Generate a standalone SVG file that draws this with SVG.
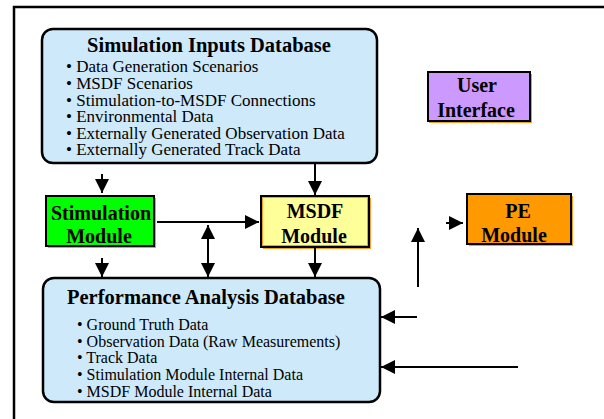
<svg xmlns="http://www.w3.org/2000/svg" width="604" height="419" viewBox="0 0 604 419">
<defs>
<marker id="ah" viewBox="0 0 10 10" refX="10" refY="5" markerWidth="16" markerHeight="14" markerUnits="userSpaceOnUse" orient="auto-start-reverse">
<path d="M0,0 L10,5 L0,10 Z" fill="#000"/>
</marker>
<style>
.db{fill:#cde9fa;stroke:#000;stroke-width:2.5}
.mod{stroke:#000;stroke-width:2}
.sh{fill:none;stroke:#f59b2a;stroke-width:2}
.t{font-family:"Liberation Serif","Times New Roman",serif;fill:#000}
.h{font-weight:bold;font-size:20.5px}
.b{font-size:17px}
.pb{font-size:16px}
.m{font-weight:bold;font-size:20px}
.c line,.c path{stroke:#000;stroke-width:2;fill:none}
</style>
</defs>
<rect width="604" height="419" fill="#fff"/>
<path d="M14 419 L14 7 L604 7" fill="none" stroke="#000" stroke-width="2.5"/>

<g id="sim-inputs-db">
<rect class="db" x="42" y="29" width="335" height="134" rx="11"/>
<text class="t h" x="209" y="52" text-anchor="middle">Simulation Inputs Database</text>
<text class="t b" x="66" y="72">• Data Generation Scenarios</text>
<text class="t b" x="66" y="89">• MSDF Scenarios</text>
<text class="t b" x="66" y="106">• Stimulation-to-MSDF Connections</text>
<text class="t b" x="66" y="122">• Environmental Data</text>
<text class="t b" x="66" y="139">• Externally Generated Observation Data</text>
<text class="t b" x="66" y="155">• Externally Generated Track Data</text>
</g>

<g id="user-interface">
<path class="sh" d="M531 74 L531 122 L429 122"/>
<rect x="428" y="72" width="102" height="49" fill="#cc99ff" stroke="#000" stroke-width="2"/>
<text class="t m" x="477" y="92" text-anchor="middle">User</text>
<text class="t m" x="476" y="117" text-anchor="middle">Interface</text>
</g>

<g id="stimulation-module">
<path class="sh" d="M155 198 L155 247 L48 247"/>
<rect class="mod" x="46" y="196" width="108" height="50" fill="#00ff00"/>
<text class="t m" x="101" y="220" text-anchor="middle">Stimulation</text>
<text class="t m" x="99" y="243" text-anchor="middle">Module</text>
</g>

<g id="msdf-module">
<path class="sh" d="M370 198 L370 248 L263 248"/>
<rect x="261" y="196" width="108" height="51" fill="#ffff99" stroke="#000" stroke-width="2"/>
<rect x="262.5" y="197.5" width="105" height="48" fill="none" stroke="#f59b2a" stroke-width="1"/>
<text class="t m" x="315" y="218" text-anchor="middle">MSDF</text>
<text class="t m" x="314" y="243" text-anchor="middle">Module</text>
</g>

<g id="pe-module">
<path class="sh" d="M572 196 L572 245 L469 245"/>
<rect x="467" y="194" width="104" height="50" fill="#ff9900" stroke="#000" stroke-width="2"/>
<text class="t m" x="518" y="218" text-anchor="middle">PE</text>
<text class="t m" x="514" y="242" text-anchor="middle">Module</text>
</g>

<g id="perf-analysis-db">
<rect class="db" x="43" y="278" width="337" height="124" rx="11"/>
<text class="t h" x="67" y="304">Performance Analysis Database</text>
<text class="t pb" x="77" y="330">• Ground Truth Data</text>
<text class="t pb" x="77" y="347">• Observation Data (Raw Measurements)</text>
<text class="t pb" x="77" y="363">• Track Data</text>
<text class="t pb" x="77" y="380">• Stimulation Module Internal Data</text>
<text class="t pb" x="77" y="397">• MSDF Module Internal Data</text>
</g>

<g id="connectors" class="c">
<line x1="102" y1="174" x2="102" y2="193" marker-end="url(#ah)"/>
<line x1="315" y1="163" x2="315" y2="195" marker-end="url(#ah)"/>
<line x1="102" y1="258" x2="102" y2="277" marker-end="url(#ah)"/>
<line x1="315" y1="247" x2="315" y2="277" marker-end="url(#ah)"/>
<line x1="157" y1="222" x2="259" y2="222" marker-end="url(#ah)"/>
<line x1="208" y1="225" x2="208" y2="277" marker-start="url(#ah)" marker-end="url(#ah)"/>
<line x1="418" y1="287" x2="418" y2="228" marker-end="url(#ah)"/>
<line x1="446" y1="223" x2="463" y2="223" marker-end="url(#ah)"/>
<line x1="417" y1="317" x2="381" y2="317" marker-end="url(#ah)"/>
<line x1="518" y1="367" x2="381" y2="367" marker-end="url(#ah)"/>
</g>
</svg>
